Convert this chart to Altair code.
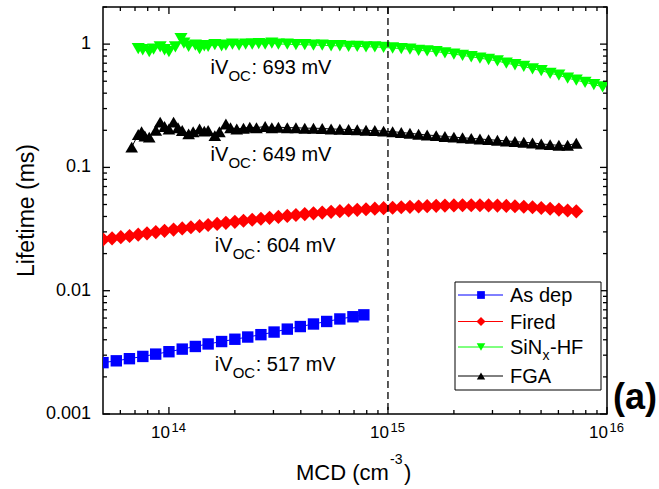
import altair as alt
import pandas as pd

# ---------------- data ----------------
asdep_mcd = [5.0e13, 5.75e13, 6.6e13, 7.6e13, 8.7e13, 1.0e14, 1.15e14, 1.32e14, 1.51e14, 1.74e14,
             2.0e14, 2.29e14, 2.63e14, 3.02e14, 3.47e14, 3.98e14, 4.57e14, 5.25e14, 6.03e14, 6.92e14, 7.76e14]
asdep_tau = [0.00261, 0.00270, 0.00281, 0.00293, 0.00306, 0.00320, 0.00336, 0.00353, 0.00370, 0.00387,
             0.00404, 0.00421, 0.00440, 0.00462, 0.00488, 0.00512, 0.00537, 0.00563, 0.00590, 0.00615, 0.00637]

fired_mcd = [5.01e13, 5.50e13, 6.03e13, 6.61e13, 7.24e13, 7.94e13, 8.71e13, 9.55e13, 1.05e14, 1.15e14,
             1.26e14, 1.38e14, 1.51e14, 1.66e14, 1.82e14, 2.00e14, 2.19e14, 2.40e14, 2.63e14, 2.88e14,
             3.16e14, 3.47e14, 3.80e14, 4.17e14, 4.57e14, 5.01e14, 5.50e14, 6.03e14, 6.61e14, 7.24e14,
             7.94e14, 8.71e14, 9.55e14, 1.05e15, 1.15e15, 1.26e15, 1.38e15, 1.51e15, 1.66e15, 1.82e15,
             2.00e15, 2.19e15, 2.40e15, 2.63e15, 2.88e15, 3.16e15, 3.47e15, 3.80e15, 4.17e15, 4.57e15,
             5.01e15, 5.50e15, 6.03e15, 6.61e15, 7.24e15]
fired_tau = [0.0260, 0.0266, 0.0272, 0.0278, 0.0285, 0.0292, 0.0299, 0.0306, 0.0313, 0.0320,
             0.0327, 0.0334, 0.0341, 0.0348, 0.0355, 0.0362, 0.0369, 0.0376, 0.0383, 0.0390,
             0.0397, 0.0404, 0.0411, 0.0418, 0.0424, 0.0430, 0.0436, 0.0442, 0.0448, 0.0453,
             0.0458, 0.0463, 0.0467, 0.0471, 0.0475, 0.0479, 0.0482, 0.0485, 0.0488, 0.0490,
             0.0492, 0.0493, 0.0493, 0.0493, 0.0492, 0.0490, 0.0487, 0.0484, 0.0480, 0.0475,
             0.0469, 0.0462, 0.0455, 0.0447, 0.0440]

sinx_mcd = [7.24e13, 7.59e13, 8.13e13, 8.51e13, 9.12e13, 9.55e13, 1.00e14, 1.07e14, 1.135e14, 1.17e14,
            1.23e14, 1.32e14, 1.38e14, 1.45e14, 1.51e14, 1.62e14, 1.74e14, 1.82e14, 1.95e14, 2.09e14,
            2.24e14, 2.40e14, 2.57e14, 2.75e14, 2.95e14, 3.16e14, 3.47e14, 3.80e14, 4.17e14, 4.57e14,
            5.01e14, 5.50e14, 6.03e14, 6.61e14, 7.24e14, 7.94e14, 8.71e14, 9.55e14, 1.05e15, 1.15e15,
            1.26e15, 1.38e15, 1.51e15, 1.66e15, 1.82e15, 2.00e15, 2.19e15, 2.40e15, 2.63e15, 2.88e15,
            3.16e15, 3.47e15, 3.80e15, 4.17e15, 4.57e15, 5.01e15, 5.50e15, 6.03e15, 6.61e15, 7.24e15,
            7.94e15, 8.71e15, 9.55e15]
sinx_tau = [0.92, 0.90, 0.87, 0.91, 0.95, 0.90, 0.87, 0.95, 1.11, 1.02,
            0.96, 0.98, 0.92, 0.97, 0.96, 0.99, 0.97, 0.98, 1.00, 0.98,
            1.00, 1.00, 1.01, 1.00, 1.02, 1.00, 1.00, 0.99, 0.99, 0.98,
            0.98, 0.97, 0.97, 0.96, 0.96, 0.95, 0.95, 0.94, 0.93, 0.92,
            0.91, 0.89, 0.88, 0.87, 0.85, 0.83, 0.81, 0.79, 0.77, 0.75,
            0.73, 0.70, 0.68, 0.66, 0.63, 0.61, 0.58, 0.56, 0.53, 0.51,
            0.49, 0.47, 0.45]

fga_mcd = [6.76e13, 7.24e13, 7.50e13, 7.76e13, 8.13e13, 8.71e13, 9.12e13, 9.55e13, 1.00e14, 1.05e14,
           1.10e14, 1.15e14, 1.23e14, 1.29e14, 1.38e14, 1.45e14, 1.51e14, 1.62e14, 1.70e14, 1.82e14,
           1.91e14, 2.04e14, 2.19e14, 2.34e14, 2.51e14, 2.75e14, 2.95e14, 3.16e14, 3.47e14, 3.80e14,
           4.17e14, 4.57e14, 5.01e14, 5.50e14, 6.03e14, 6.61e14, 7.24e14, 7.94e14, 8.71e14, 9.55e14,
           1.05e15, 1.15e15, 1.26e15, 1.38e15, 1.51e15, 1.66e15, 1.82e15, 2.00e15, 2.19e15, 2.40e15,
           2.63e15, 2.88e15, 3.16e15, 3.47e15, 3.80e15, 4.17e15, 4.57e15, 5.01e15, 5.50e15, 6.03e15,
           6.61e15, 7.24e15]
fga_tau = [0.146, 0.185, 0.195, 0.180, 0.176, 0.200, 0.233, 0.215, 0.205, 0.233,
           0.210, 0.199, 0.187, 0.195, 0.205, 0.197, 0.199, 0.181, 0.195, 0.225,
           0.210, 0.205, 0.208, 0.212, 0.210, 0.215, 0.210, 0.212, 0.210, 0.210,
           0.208, 0.208, 0.207, 0.205, 0.204, 0.203, 0.202, 0.200, 0.199, 0.197,
           0.195, 0.192, 0.189, 0.186, 0.183, 0.181, 0.178, 0.176, 0.174, 0.172,
           0.170, 0.168, 0.166, 0.164, 0.162, 0.160, 0.158, 0.155, 0.153, 0.151,
           0.151, 0.157]

series_names = ["As dep", "Fired", "SiNx-HF", "FGA"]
series_colors = ["#0000FF", "#FF0000", "#00FF00", "#000000"]
series_shapes = ["square", "diamond", "triangle-down", "triangle-up"]

x_major = [1e14, 1e15, 1e16]
x_major_exp = ["14", "15", "16"]
x_minor = [6e13, 7e13, 8e13, 9e13,
           2e14, 3e14, 4e14, 5e14, 6e14, 7e14, 8e14, 9e14,
           2e15, 3e15, 4e15, 5e15, 6e15, 7e15, 8e15, 9e15]
y_major = [0.001, 0.01, 0.1, 1]
y_major_labels = ["0.001", "0.01", "0.1", "1"]
y_minor = [0.002, 0.003, 0.004, 0.005, 0.006, 0.007, 0.008, 0.009,
           0.02, 0.03, 0.04, 0.05, 0.06, 0.07, 0.08, 0.09,
           0.2, 0.3, 0.4, 0.5, 0.6, 0.7, 0.8, 0.9, 2]

ann_mcd = [1.55e14, 1.55e14, 1.62e14, 1.62e14]
ann_tau = [0.573, 0.113, 0.0206, 0.00223]
ann_rest = [": 693 mV", ": 649 mV", ": 604 mV", ": 517 mV"]

vline_mcd = [1e15]

# ---------------- layout ----------------
W, H = 504, 407
FONT = "Liberation Sans"
xscale = alt.Scale(type="log", domain=[5e13, 1e16], nice=False)
yscale = alt.Scale(type="log", domain=[0.001, 2], nice=False)


def X(field):
    return alt.X(field, scale=xscale, axis=None)


def Y(field):
    return alt.Y(field, scale=yscale, axis=None)


all_mcd = [asdep_mcd, fired_mcd, sinx_mcd, fga_mcd]
all_tau = [asdep_tau, fired_tau, sinx_tau, fga_tau]
sizes = [130, 200, 170, 160]

layers = []
for name, col, shp, mcd, tau, sz in zip(series_names, series_colors, series_shapes, all_mcd, all_tau, sizes):
    df = pd.DataFrame({"mcd": mcd, "tau": tau, "series": name})
    layers.append(alt.Chart(df).mark_line(color=col, strokeWidth=1, clip=True).encode(
        x=X("mcd:Q"), y=Y("tau:Q")))
    layers.append(alt.Chart(df).mark_point(shape=shp, filled=True, size=sz, color=col, opacity=1,
                                           clip=True).encode(x=X("mcd:Q"), y=Y("tau:Q")))

# inward ticks on all four sides
for vals, ln in ((x_major, 7), (x_minor, 4)):
    d = pd.DataFrame({"xv": vals})
    for ypos in (H - ln / 2, ln / 2):
        layers.append(alt.Chart(d).mark_tick(color="black", thickness=1.3, size=ln, opacity=1).encode(
            x=X("xv:Q"), y=alt.value(ypos)))
for vals, ln in ((y_major, 7), (y_minor, 4)):
    d = pd.DataFrame({"yv": vals})
    for xpos in (ln / 2, W - ln / 2):
        layers.append(alt.Chart(d).mark_tick(color="black", thickness=1.3, size=ln, opacity=1).encode(
            y=Y("yv:Q"), x=alt.value(xpos)))

# dashed vertical line at 1e15
layers.append(alt.Chart(pd.DataFrame({"v": vline_mcd})).mark_rule(
    color="black", strokeWidth=1.3, strokeDash=[7, 4]).encode(x=X("v:Q")))

# y tick labels
yl = pd.DataFrame({"lv": y_major, "lab": y_major_labels})
layers.append(alt.Chart(yl).mark_text(font=FONT, fontSize=18, align="right", baseline="middle",
                                      color="black").encode(
    y=Y("lv:Q"), x=alt.value(-12), text="lab:N"))

# x tick labels 10^n
xl = pd.DataFrame({"pos": x_major, "exp": x_major_exp})
layers.append(alt.Chart(xl).mark_text(font=FONT, fontSize=17, align="right", baseline="alphabetic",
                                      dx=1, color="black").encode(
    x=X("pos:Q"), y=alt.value(H + 24), text=alt.value("10")))
layers.append(alt.Chart(xl).mark_text(font=FONT, fontSize=13, align="left", baseline="alphabetic",
                                      dx=2.5, color="black").encode(
    x=X("pos:Q"), y=alt.value(H + 18), text="exp:N"))

one = alt.Data(values=[{}])


def ptext(txt, px, py, size, weight="normal", align="left", angle=0):
    return alt.Chart(one).mark_text(font=FONT, fontSize=size, fontWeight=weight, align=align,
                                    baseline="alphabetic", color="black", angle=angle).encode(
        x=alt.value(px), y=alt.value(py), text=alt.value(txt))


# y title
layers.append(ptext("Lifetime (ms)", -69, H / 2, 23, align="center", angle=270))

# x title: MCD (cm^-3)
layers.append(ptext("MCD (cm", 193, H + 66, 22))
layers.append(ptext("-3", 287, H + 50, 14))
layers.append(ptext(")", 301, H + 66, 22))

# annotations
ann = pd.DataFrame({"mcd": ann_mcd, "tau": ann_tau, "rest": ann_rest})
base_ann = alt.Chart(ann)
layers.append(base_ann.mark_text(font=FONT, fontSize=20, align="left", baseline="alphabetic",
                                 color="black").encode(x=X("mcd:Q"), y=Y("tau:Q"), text=alt.value("iV")))
layers.append(base_ann.mark_text(font=FONT, fontSize=15, align="left", baseline="alphabetic",
                                 dx=17.8, dy=7, color="black").encode(x=X("mcd:Q"), y=Y("tau:Q"),
                                                                      text=alt.value("OC")))
layers.append(base_ann.mark_text(font=FONT, fontSize=20, align="left", baseline="alphabetic",
                                 dx=40.8, color="black").encode(x=X("mcd:Q"), y=Y("tau:Q"), text="rest:N"))

# (a)
layers.append(ptext("(a)", 510, 402, 36, weight="bold"))

# legend
layers.append(alt.Chart(one).mark_rect(fill="white", stroke="black", strokeWidth=1).encode(
    x=alt.value(352), x2=alt.value(498), y=alt.value(275), y2=alt.value(383)))
leg_base = [295, 321.5, 347, 376]
leg_sizes = [60, 80, 75, 70]
for i, (name, col, shp) in enumerate(zip(series_names, series_colors, series_shapes)):
    by = leg_base[i]
    cy = by - 7
    layers.append(alt.Chart(one).mark_rule(color=col, strokeWidth=1).encode(
        x=alt.value(355), x2=alt.value(400), y=alt.value(cy)))
    layers.append(alt.Chart(one).mark_point(shape=shp, filled=True, size=leg_sizes[i], color=col,
                                            opacity=1).encode(
        x=alt.value(378), y=alt.value(cy)))
    if name == "SiNx-HF":
        layers.append(ptext("SiN", 407, by, 20))
        layers.append(ptext("x", 439.5, by + 6, 14))
        layers.append(ptext("-HF", 447, by, 20))
    else:
        layers.append(ptext(name, 407, by, 20))

chart = alt.layer(*layers).properties(
    width=W, height=H, autosize="none",
    padding={"left": 103, "top": 7, "right": 52, "bottom": 75},
    background="white",
).configure_view(stroke="black", strokeWidth=1.5)

chart.save("out.html", embed_options={"renderer": "svg", "actions": False})
